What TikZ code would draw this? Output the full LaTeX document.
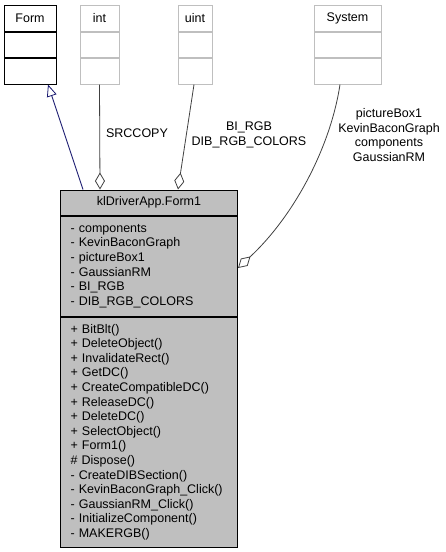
\documentclass[tikz,border=0pt]{standalone}
\usepackage{fontspec}
\setmainfont{Liberation Sans}
\usetikzlibrary{arrows.meta,positioning}

\definecolor{edgegray}{HTML}{404040}
\definecolor{boxgray}{HTML}{BFBFBF}
\definecolor{inheritblue}{HTML}{191970}

\begin{document}
\begin{tikzpicture}[x=1pt,y=-1pt,
		every node/.style={font=\fontsize{12.5}{14.6}\selectfont, inner sep=0pt},
		basecls/.style={draw=black, line width=1pt, fill=white, minimum width=#1, minimum height=26pt},
		extcls/.style={draw=boxgray, line width=1pt, fill=white, minimum width=#1, minimum height=26pt},
		maincls/.style={draw=black, line width=1pt, fill=boxgray, minimum width=177pt},
		inherit/.style={draw=inheritblue, line width=0.8pt, -{Triangle[open, length=12pt, width=10pt]}},
		aggr/.style={draw=edgegray, line width=0.8pt, -{Diamond[open, fill=white, length=17pt, width=10pt]}}
	]
	\useasboundingbox (0,0) rectangle (445,552);
	% top row of classes
	\node[basecls=52pt] (form) at (30,18) {Form};
	\node[basecls=52pt, minimum height=25.5pt, below=0pt of form] (formattr) {};
	\node[basecls=52pt, minimum height=25.5pt, below=0pt of formattr] (formops) {};
	\node[extcls=39pt] (int) at (99.5,18) {int};
	\node[extcls=39pt, minimum height=25.5pt, below=0pt of int] (intattr) {};
	\node[extcls=39pt, minimum height=25.5pt, below=0pt of intattr] (intops) {};
	\node[extcls=34pt] (uint) at (195,18) {uint};
	\node[extcls=34pt, minimum height=25.5pt, below=0pt of uint] (uintattr) {};
	\node[extcls=34pt, minimum height=25.5pt, below=0pt of uintattr] (uintops) {};
	\node[extcls=67pt] (sys) at (347.5,18) {System};
	\node[extcls=67pt, minimum height=25.5pt, below=0pt of sys] (sysattr) {};
	\node[extcls=67pt, minimum height=25.5pt, below=0pt of sysattr] (sysops) {};
	% the class itself
	\node[maincls, minimum height=25pt] (form1) at (149,202.5) {klDriverApp.Form1};
	\node[maincls, minimum height=100pt, text width=157pt, align=left, below=0pt of form1] (form1attr)
	{- components\\- KevinBaconGraph\\- pictureBox1\\- GaussianRM\\- BI\_RGB\\- DIB\_RGB\_COLORS};
	\node[maincls, minimum height=230pt, text width=157pt, align=left, below=0pt of form1attr] (form1ops)
	{+ BitBlt()\\+ DeleteObject()\\+ InvalidateRect()\\+ GetDC()\\+ CreateCompatibleDC()\\+ ReleaseDC()\\
		+ DeleteDC()\\+ SelectObject()\\+ Form1()\\\# Dispose()\\- CreateDIBSection()\\- KevinBaconGraph\_Click()\\
		- GaussianRM\_Click()\\- InitializeComponent()\\- MAKERGB()};
	% relations
	\draw[inherit] ([xshift=-66pt]form1.north) -- ([xshift=18pt]formops.south);
	\draw[aggr] (intops.south) -- ([xshift=-49pt]form1.north);
	\draw[aggr] ([xshift=-1pt]uintops.south) -- ([xshift=29pt]form1.north);
	\draw[aggr] ([xshift=-7.5pt]sysops.south) .. controls (330,150) and (292,218) .. ([yshift=-2pt]form1attr.east);
	\node (srccopy) at (137,133) {SRCCOPY};
	\node[align=center] (uintlbl) at (249,135) {BI\_RGB\\DIB\_RGB\_COLORS};
	\node[align=center] (syslbl) at (389,135) {pictureBox1\\KevinBaconGraph\\components\\GaussianRM};
\end{tikzpicture}
\end{document}
